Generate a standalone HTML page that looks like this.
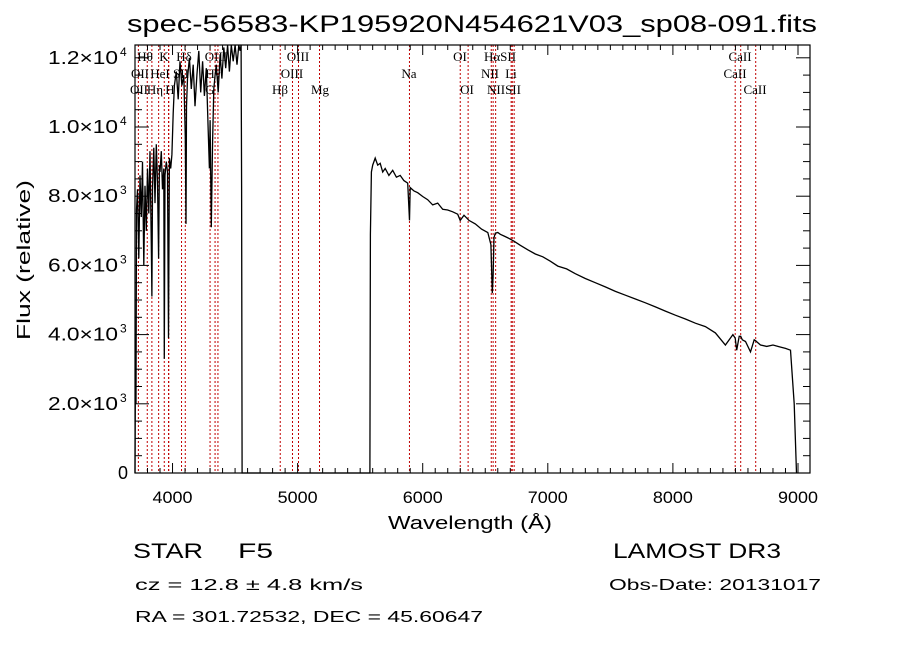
<!DOCTYPE html>
<html><head><meta charset="utf-8"><style>
html,body{margin:0;padding:0;background:#fff;}
svg{display:block;}
text{font-family:"Liberation Sans",sans-serif;fill:#000;}
.s{font-family:"Liberation Serif",serif;font-size:13px;}
</style></head><body>
<svg id="chart" width="900" height="649" viewBox="0 0 900 649">
<text x="127" y="32" font-size="24" textLength="690" lengthAdjust="spacingAndGlyphs">spec-56583-KP195920N454621V03_sp08-091.fits</text>
<g id="lines"></g>
<g id="spec"></g>
<g id="axes"></g>
<text x="470" y="529" font-size="18" text-anchor="middle" textLength="164" lengthAdjust="spacingAndGlyphs">Wavelength (Å)</text>
<text transform="translate(30,260) rotate(-90)" font-size="18" text-anchor="middle" textLength="160" lengthAdjust="spacingAndGlyphs">Flux (relative)</text>
<text x="133" y="558" font-size="21" textLength="70" lengthAdjust="spacingAndGlyphs">STAR</text>
<text x="238" y="558" font-size="21" textLength="35" lengthAdjust="spacingAndGlyphs">F5</text>
<text x="135" y="590" font-size="16" textLength="228" lengthAdjust="spacingAndGlyphs">cz = 12.8 ± 4.8 km/s</text>
<text x="135" y="622" font-size="16" textLength="348" lengthAdjust="spacingAndGlyphs">RA = 301.72532, DEC =  45.60647</text>
<text x="613" y="558" font-size="21" textLength="168" lengthAdjust="spacingAndGlyphs">LAMOST DR3</text>
<text x="609" y="590" font-size="16" textLength="212" lengthAdjust="spacingAndGlyphs">Obs-Date: 20131017</text>
</svg>
<script>
const NS="http://www.w3.org/2000/svg";
const lineWaves=[3727,3798,3835,3889,3934,3968,3970,4072,4102,4300,4340,4363,4861,4959,5007,5175,5894,6300,6363,6548,6563,6583,6707,6716,6731,8498,8542,8662];
const lineLabels=[["Hθ",145,1],["K",164,1],["Hδ",184,1],["OIII",216,1],["OIII",298,1],["OI",460,1],["HαSII",500,1],["CaII",740,1],
["OII",140,2],["HeI",160,2],["SII",181,2],["Hγ",213,2],["OIII",292,2],["Na",409,2],["NII",490,2],["Li",511,2],["CaII",735,2],
["OII",139,3],["Hη",155,3],["H",170,3],["G",210,3],["Hβ",280,3],["Mg",320,3],["OI",467,3],["NIISII",504,3],["CaII",755,3]];
const waves=[3700,3704,3708,3712,3720,3730,3740,3750,3760,3770,3780,3790,3800,3810,3820,3830,3835,3840,3850,3860,3870,3880,3889,3895,3900,3910,3920,3930,3934,3940,3950,3960,3968,3975,3985,3995,4005,4015,4030,4045,4060,4075,4090,4102,4108,4112,4120,4135,4150,4165,4180,4195,4210,4225,4240,4255,4270,4285,4295,4300,4310,4320,4330,4340,4350,4365,4380,4395,4410,4425,4440,4455,4470,4485,4500,4515,4530,4540,4548,4552,4556,
5570,5578,5582,5590,5600,5620,5640,5660,5680,5700,5730,5760,5790,5820,5850,5880,5894,5900,5930,5960,6000,6040,6080,6120,6160,6200,6240,6280,6300,6330,6370,6420,6470,6520,6545,6556,6563,6570,6580,6600,6620,6650,6690,6730,6780,6840,6900,6960,7020,7080,7150,7220,7300,7380,7460,7540,7620,7700,7780,7860,7940,8020,8100,8180,8260,8340,8420,8480,8498,8510,8530,8542,8555,8580,8620,8650,8662,8675,8700,8750,8800,8850,8900,8940,8970,8988,8992,8996];
const flux=[0,3400,2000,7600,8200,6200,8600,7400,9000,6000,8300,7000,8800,7500,9300,6600,5100,8200,9400,7800,9500,8400,6200,8900,8700,9300,8200,8800,3300,8600,9000,8700,3900,9100,8800,9200,10400,11200,11600,10800,11900,11200,11500,9700,7200,10600,11400,12000,11100,11800,10600,11500,12200,11000,11900,10900,11700,9900,8800,10200,7100,9600,11100,11500,11800,11000,12100,11400,12300,11700,12400,11600,12400,11900,12600,11800,12600,12200,12500,8300,0,
0,0,6900,8700,8900,9100,8900,8950,8700,8800,8600,8750,8550,8600,8450,8380,7300,8250,8150,8100,7990,7900,7750,7800,7620,7600,7550,7480,7300,7450,7300,7200,7050,6950,6600,5200,5700,6800,6930,6950,6900,6850,6780,6700,6580,6450,6330,6250,6120,5980,5900,5760,5620,5500,5380,5250,5140,5030,4920,4800,4680,4560,4450,4330,4230,4050,3700,4000,3900,3550,3950,3950,3850,3800,3500,3850,3820,3780,3700,3660,3700,3650,3600,3550,2000,0];
const L=135,R=810,T=45,B=473,X0=3700,X1=9096,Y0=0,Y1=12370;
const sx=w=>L+(w-X0)/(X1-X0)*(R-L);
const sy=f=>B-(f-Y0)/(Y1-Y0)*(B-T);
function mk(t,a,p){const e=document.createElementNS(NS,t);for(const k in a)e.setAttribute(k,a[k]);p.appendChild(e);return e;}
const gl=document.getElementById('lines');
lineWaves.forEach(w=>{const l=mk('line',{x1:sx(w),x2:sx(w),y1:T,y2:B,stroke:'#c00000','stroke-width':1,'stroke-dasharray':'2,2'},gl);

});
lineLabels.forEach(d=>{const t=mk('text',{x:d[1],y:[0,61,78,94][d[2]],'text-anchor':'middle',class:'s'},gl);t.textContent=d[0];

});
const gs=document.getElementById('spec');
let pts=[];for(let i=0;i<waves.length;i++){const x=sx(waves[i]),y=Math.max(T,sy(flux[i]));pts.push(x.toFixed(1)+','+y.toFixed(1));}
const pl=mk('polyline',{points:pts.join(' '),fill:'none',stroke:'#000','stroke-width':1.3},gs);


const ga=document.getElementById('axes');
const fr=mk('rect',{x:L,y:T,width:R-L,height:B-T,fill:'none',stroke:'#000','stroke-width':1.2},ga);


const xTicks=[4000,5000,6000,7000,8000,9000];
for(let w=3700;w<=9096;w+=100){const maj=w%1000===0,h=maj?10:5,x=sx(w);
mk('line',{x1:x,x2:x,y1:B,y2:B-h,stroke:'#000'},ga);mk('line',{x1:x,x2:x,y1:T,y2:T+h,stroke:'#000'},ga);}
xTicks.forEach(w=>{const t=mk('text',{x:sx(w),y:503,'font-size':17,'text-anchor':'middle',textLength:40,lengthAdjust:'spacingAndGlyphs'},ga);t.textContent=w;

});
for(let f=0;f<=12370;f+=500){const maj=f%2000===0,h=maj?14:7,y=sy(f);
mk('line',{x1:L,x2:L+h,y1:y,y2:y,stroke:'#000'},ga);mk('line',{x1:R,x2:R-h,y1:y,y2:y,stroke:'#000'},ga);}
const yTicks=["0","2.0","4.0","6.0","8.0","1.0","1.2"];
const yExp=["","3","3","3","3","4","4"];
yTicks.forEach((s,i)=>{const y=sy(i*2000)+6;const g=mk('g',{},ga);


if(s==="0"){const t=mk('text',{x:128,y:y,'font-size':18,'text-anchor':'end'},g);t.textContent='0';return;}
const t=mk('text',{x:118,y:y,'font-size':18,'text-anchor':'end',textLength:70,lengthAdjust:'spacingAndGlyphs'},g);t.textContent=s+'×10';
const e=mk('text',{x:120,y:y-8,'font-size':12},g);e.textContent=yExp[i];});
</script>
</body></html>
